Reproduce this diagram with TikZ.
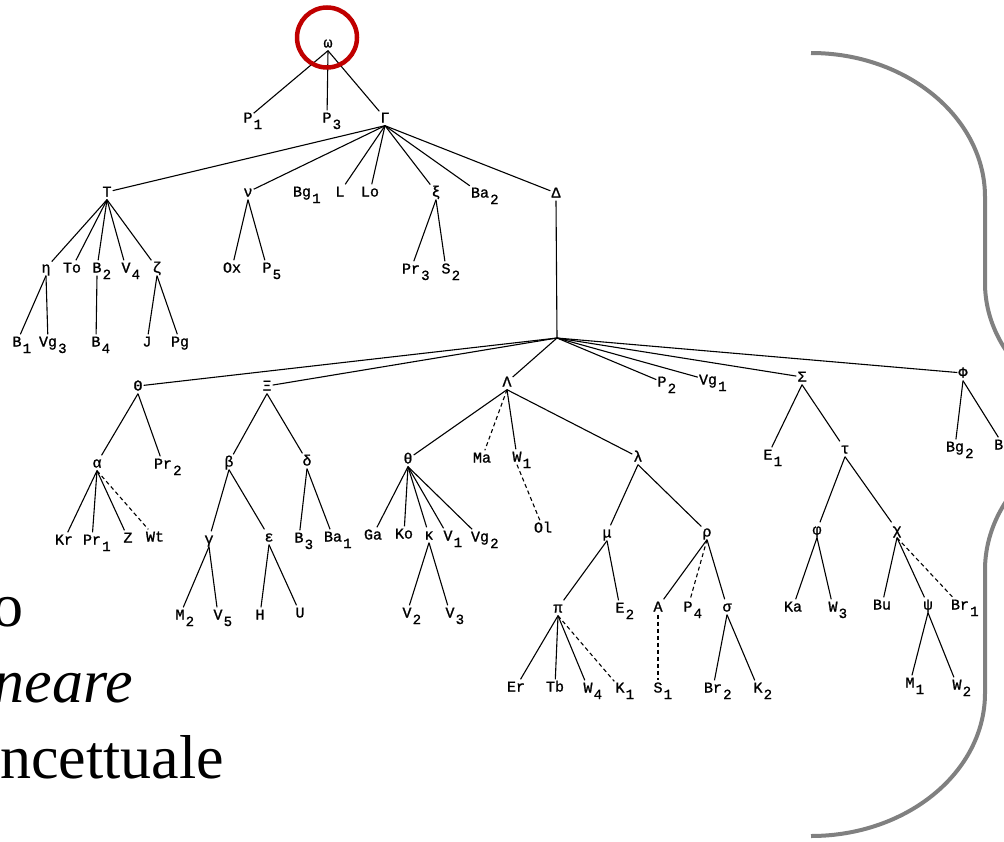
\documentclass[tikz,border=0pt]{standalone}
\usepackage{fontspec}
\setmainfont{Liberation Serif}
\newfontfamily\tfont[FakeBold=1.2]{Liberation Mono}
\newcommand\sbx[1]{\rlap{\smash{\hspace{1.2pt}\raisebox{-6.5pt}{\fontsize{14pt}{14pt}\selectfont #1}}}}
\definecolor{circred}{RGB}{192,0,0}
\definecolor{bracegray}{RGB}{128,128,128}
\begin{document}
\begin{tikzpicture}[x=1pt,y=-1pt,
  tn/.style={font=\tfont\fontsize{15pt}{15pt}\selectfont, inner xsep=1pt, inner ysep=3pt, text height=9pt, text depth=0pt},
  ed/.style={line width=1.1pt},
  dsh/.style={line width=1.1pt, dash pattern=on 4pt off 3pt},
  bigtext/.style={font=\fontsize{62pt}{76pt}\selectfont, inner sep=0pt, anchor=base east},
  bracepath/.style={line width=4pt, draw=bracegray},
  ring/.style={line width=4.5pt, draw=circred}]
\useasboundingbox (0,0) rectangle (1004,841);
\fill[white] (0,0) rectangle (1004,841);
\clip (0,0) rectangle (1004,841);

% row 0-1
\node[tn] (w) at (328,43) {ω};
\node[tn] (P1) at (248,118) {P\sbx{1}};
\node[tn] (P3) at (327,118) {P\sbx{3}};
\node[tn] (Gam) at (385,118) {Γ};
% row 2
\node[tn] (T) at (107,192) {T};
\node[tn] (nu) at (248,192) {ν};
\node[tn] (Bg1) at (302,192) {Bg\sbx{1}};
\node[tn] (L) at (340,192) {L};
\node[tn] (Lo) at (370,192) {Lo};
\node[tn] (xi) at (436,192) {ξ};
\node[tn] (Ba2) at (480,193) {Ba\sbx{2}};
\node[tn] (Del) at (556,193) {Δ};
% row 3
\node[tn] (eta) at (46,268) {η};
\node[tn] (To) at (72,268) {To};
\node[tn] (B2) at (97,268) {B\sbx{2}};
\node[tn] (V4) at (126,268) {V\sbx{4}};
\node[tn] (zeta) at (157,268) {ζ};
\node[tn] (Ox) at (232,268) {Ox};
\node[tn] (P5) at (267,268) {P\sbx{5}};
\node[tn] (Pr3) at (411,269) {Pr\sbx{3}};
\node[tn] (S2) at (446,269) {S\sbx{2}};
% row 4
\node[tn] (B1) at (17,342) {B\sbx{1}};
\node[tn] (Vg3) at (48,342) {Vg\sbx{3}};
\node[tn] (B4) at (96,342) {B\sbx{4}};
\node[tn] (J) at (147,342) {J};
\node[tn] (Pg) at (180,342) {Pg};
\coordinate (hub) at (557,338);
% row 5
\node[tn] (Theta) at (138,386) {Θ};
\node[tn] (Xi) at (267,386) {Ξ};
\node[tn] (Lam) at (507,382) {Λ};
\node[tn] (P2) at (662,382) {P\sbx{2}};
\node[tn] (Vg1) at (708,380) {Vg\sbx{1}};
\node[tn] (Sig) at (802,377) {Σ};
\node[tn] (Phi) at (963,373) {Φ};
% row 6
\node[tn] (alpha) at (97,463) {α};
\node[tn] (Pr2) at (163,464) {Pr\sbx{2}};
\node[tn] (beta) at (229,462) {β};
\node[tn] (delta) at (307,461) {δ};
\node[tn] (theta) at (408,459) {θ};
\node[tn] (Ma) at (482,458) {Ma};
\node[tn] (W1) at (517,457) {W\sbx{1}};
\node[tn] (lam) at (638,457) {λ};
\node[tn] (E1) at (768,455) {E\sbx{1}};
\node[tn] (tau) at (845,449) {τ};
\node[tn] (Bg2) at (955,447) {Bg\sbx{2}};
\node[tn, anchor=west] (Bs) at (993,445) {Bs};
% row 7
\node[tn] (Kr) at (64,540) {Kr};
\node[tn] (Pr1) at (92,540) {Pr\sbx{1}};
\node[tn] (Z) at (128,538) {Z};
\node[tn] (Wt) at (155,537) {Wt};
\node[tn] (gamma) at (209,539) {γ};
\node[tn] (eps) at (269,537) {ε};
\node[tn] (B3) at (299,538) {B\sbx{3}};
\node[tn] (Ba1) at (333,537) {Ba\sbx{1}};
\node[tn] (Ga) at (373,535) {Ga};
\node[tn] (Ko) at (404,534) {Ko};
\node[tn] (kappa) at (429,535) {κ};
\node[tn] (V1) at (448,536) {V\sbx{1}};
\node[tn] (Vg2) at (480,537) {Vg\sbx{2}};
\node[tn] (Ol) at (543,528) {Ol};
\node[tn] (mu) at (607,533) {μ};
\node[tn] (rho) at (707,532) {ρ};
\node[tn] (phi) at (817,530) {φ};
\node[tn] (chi) at (897,530) {χ};
% row 8
\node[tn] (M2) at (180,615) {M\sbx{2}};
\node[tn] (V5) at (218,615) {V\sbx{5}};
\node[tn] (H) at (260,615) {H};
\node[tn] (U) at (300,613) {U};
\node[tn] (V2) at (407,613) {V\sbx{2}};
\node[tn] (V3) at (450,613) {V\sbx{3}};
\node[tn] (pi) at (558,608) {π};
\node[tn] (E2) at (620,608) {E\sbx{2}};
\node[tn] (A) at (658,607) {A};
\node[tn] (P4) at (688,607) {P\sbx{4}};
\node[tn] (sigma) at (727,607) {σ};
\node[tn] (Ka) at (793,607) {Ka};
\node[tn] (W3) at (833,607) {W\sbx{3}};
\node[tn] (Bu) at (882,605) {Bu};
\node[tn] (psi) at (928,605) {ψ};
\node[tn] (Br1) at (960,605) {Br\sbx{1}};
% row 9
\node[tn] (Er) at (516,687) {Er};
\node[tn] (Tb) at (555,687) {Tb};
\node[tn] (W4) at (588,688) {W\sbx{4}};
\node[tn] (K1) at (620,688) {K\sbx{1}};
\node[tn] (S1) at (658,688) {S\sbx{1}};
\node[tn] (Br2) at (713,688) {Br\sbx{2}};
\node[tn] (K2) at (758,688) {K\sbx{2}};
\node[tn] (M1) at (910,683) {M\sbx{1}};
\node[tn] (W2) at (957,685) {W\sbx{2}};

% edges
\foreach \c in {P1,P3,Gam} \draw[ed] (w.south) -- (\c);
\foreach \c in {T,nu,L,Lo,xi,Ba2,Del} \draw[ed] (Gam.south) -- (\c);
\foreach \c in {eta,To,B2,V4,zeta} \draw[ed] (T.south) -- (\c);
\foreach \c in {B1,Vg3} \draw[ed] (eta.south) -- (\c);
\draw[ed] (B2.south) -- (B4);
\foreach \c in {J,Pg} \draw[ed] (zeta.south) -- (\c);
\foreach \c in {Ox,P5} \draw[ed] (nu.south) -- (\c);
\foreach \c in {Pr3,S2} \draw[ed] (xi.south) -- (\c);
\draw[ed] (Del.south) -- (hub);
\foreach \c in {Theta,Xi,Lam,P2,Vg1,Sig,Phi} \draw[ed] (hub) -- (\c);
\foreach \c in {alpha,Pr2} \draw[ed] (Theta.south) -- (\c);
\foreach \c in {Kr,Pr1,Z} \draw[ed] (alpha.south) -- (\c);
\draw[dsh] (alpha.south) -- (Wt);
\foreach \c in {beta,delta} \draw[ed] (Xi.south) -- (\c);
\foreach \c in {gamma,eps} \draw[ed] (beta.south) -- (\c);
\foreach \c in {M2,V5} \draw[ed] (gamma.south) -- (\c);
\foreach \c in {H,U} \draw[ed] (eps.south) -- (\c);
\foreach \c in {B3,Ba1} \draw[ed] (delta.south) -- (\c);
\foreach \c in {theta,W1,lam} \draw[ed] (Lam.south) -- (\c);
\draw[dsh] (Lam.south) -- (Ma);
\foreach \c in {Ga,Ko,kappa,V1,Vg2} \draw[ed] (theta.south) -- (\c);
\foreach \c in {V2,V3} \draw[ed] (kappa.south) -- (\c);
\draw[dsh] (W1.south) -- (Ol);
\foreach \c in {mu,rho} \draw[ed] (lam.south) -- (\c);
\foreach \c in {pi,E2} \draw[ed] (mu.south) -- (\c);
\foreach \c in {Er,Tb,W4} \draw[ed] (pi.south) -- (\c);
\draw[dsh] (pi.south) -- (K1);
\foreach \c in {A,sigma} \draw[ed] (rho.south) -- (\c);
\draw[dsh] (rho.south) -- (P4);
\draw[dsh] (A.south) -- (S1);
\foreach \c in {Br2,K2} \draw[ed] (sigma.south) -- (\c);
\foreach \c in {E1,tau} \draw[ed] (Sig.south) -- (\c);
\foreach \c in {phi,chi} \draw[ed] (tau.south) -- (\c);
\foreach \c in {Ka,W3} \draw[ed] (phi.south) -- (\c);
\foreach \c in {Bu,psi} \draw[ed] (chi.south) -- (\c);
\draw[dsh] (chi.south) -- (Br1);
\foreach \c in {M1,W2} \draw[ed] (psi.south) -- (\c);
\foreach \c in {Bg2,Bs} \draw[ed] (Phi.south) -- (\c);

% left text
\node[bigtext] (t1) at (24,626) {o};
\node[bigtext] (t2) at (133,702) {\itshape neare};
\node[bigtext] (t3) at (224,778) {ncettuale};

% brace
\draw[bracepath] (811,53) .. controls (907,53) and (985,118) .. (985,197) -- (985,283)
  .. controls (985,361) and (1063,425) .. (1159,425)
  .. controls (1063,425) and (985,491) .. (985,570) -- (985,693)
  .. controls (985,772) and (907,836) .. (811,836);

% red circle
\draw[ring] (327,37.5) circle[radius=30pt];
\end{tikzpicture}
\end{document}
